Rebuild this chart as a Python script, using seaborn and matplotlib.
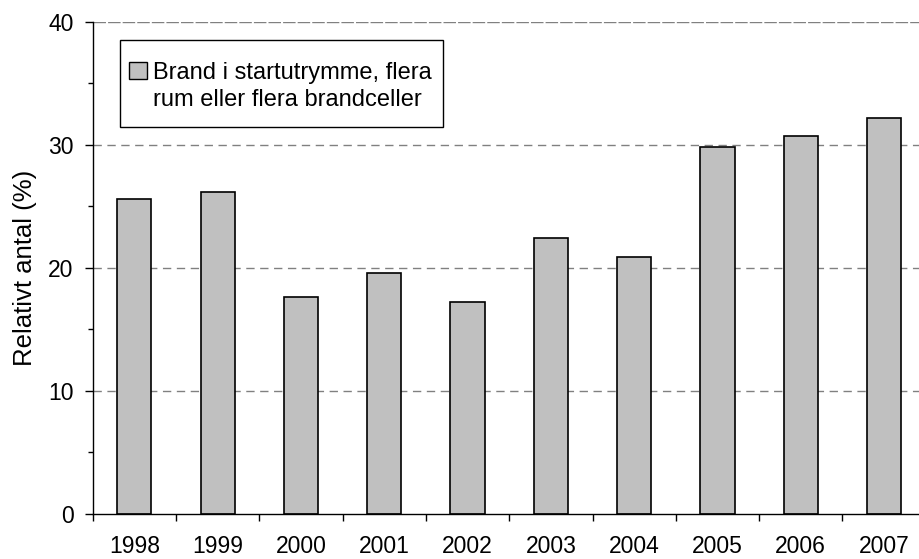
import matplotlib
matplotlib.use("Agg")
import matplotlib.pyplot as plt
import seaborn as sns
import pandas as pd
from matplotlib.patches import Patch, Rectangle
from matplotlib.ticker import MultipleLocator, FixedLocator

years = ["1998", "1999", "2000", "2001", "2002", "2003", "2004", "2005", "2006", "2007"]
values = [25.6, 26.2, 17.65, 19.6, 17.25, 22.4, 20.9, 29.8, 30.75, 32.2]
legend_lines = ["Brand i startutrymme, flera", "rum eller flera brandceller"]
ylabel = "Relativt antal (%)"

sns.set_theme(style="white")
plt.rcParams["font.family"] = ["Liberation Sans", "DejaVu Sans"]

df = pd.DataFrame({"year": years, "value": values})

fig = plt.figure(figsize=(9.2, 5.59), dpi=100)
ax = fig.add_axes([0.1008, 0.0805, 0.9054, 0.8807])

sns.barplot(data=df, x="year", y="value", color="#c0c0c0", saturation=1,
            width=0.41, edgecolor="black", linewidth=1.2, ax=ax, zorder=3)

ax.set_xlim(-0.5, len(years) - 0.5)
ax.set_ylim(0, 40)
ax.yaxis.set_major_locator(MultipleLocator(10))
ax.yaxis.set_minor_locator(MultipleLocator(5))
ax.xaxis.set_minor_locator(FixedLocator([i - 0.5 for i in range(len(years) + 1)]))

for y in [10, 20, 30]:
    ax.axhline(y, color="#808080", linewidth=1.0, linestyle=(0, (6, 4)), zorder=1)
ax.axhline(40, color="#808080", linewidth=1.0, linestyle=(0, (9, 1.5)), zorder=1)

for side in ["top", "right"]:
    ax.spines[side].set_visible(False)
for side in ["left", "bottom"]:
    ax.spines[side].set_color("black")
    ax.spines[side].set_linewidth(1.0)
    ax.spines[side].set_zorder(4)

ax.tick_params(axis="y", which="major", direction="out", length=5.5, width=1,
               color="black", labelsize=16.5, pad=8.4, left=True)
ax.tick_params(axis="y", which="minor", direction="out", length=3.8, width=1,
               color="black", left=True)
ax.tick_params(axis="x", which="major", length=0, labelsize=16.5, pad=15)
ax.tick_params(axis="x", which="minor", direction="out", length=5, width=1,
               color="black", bottom=True)
for lab in ax.get_xticklabels() + ax.get_yticklabels():
    lab.set_color("black")

ax.set_xlabel("")
ax.set_ylabel(ylabel, fontsize=18.5, color="black", labelpad=8)
ax.grid(False)

handles = [Patch(facecolor="#c0c0c0", edgecolor="black", linewidth=1.0),
           Patch(facecolor="none", edgecolor="none")]
leg = ax.legend(handles, legend_lines, loc="upper left",
                bbox_to_anchor=(0.044, 0.919), frameon=False,
                fontsize=17, handlelength=0.75, handleheight=0.75,
                handletextpad=0.23, labelspacing=0.25, borderpad=0, borderaxespad=0)
for t in leg.get_texts():
    t.set_color("black")

ax.add_patch(Rectangle((0.0328, 0.7867), 0.3874, 0.1761, transform=ax.transAxes,
                       facecolor="white", edgecolor="black", linewidth=1.0, zorder=5))
leg.set_zorder(6)

fig.savefig("out.png", dpi=100)
